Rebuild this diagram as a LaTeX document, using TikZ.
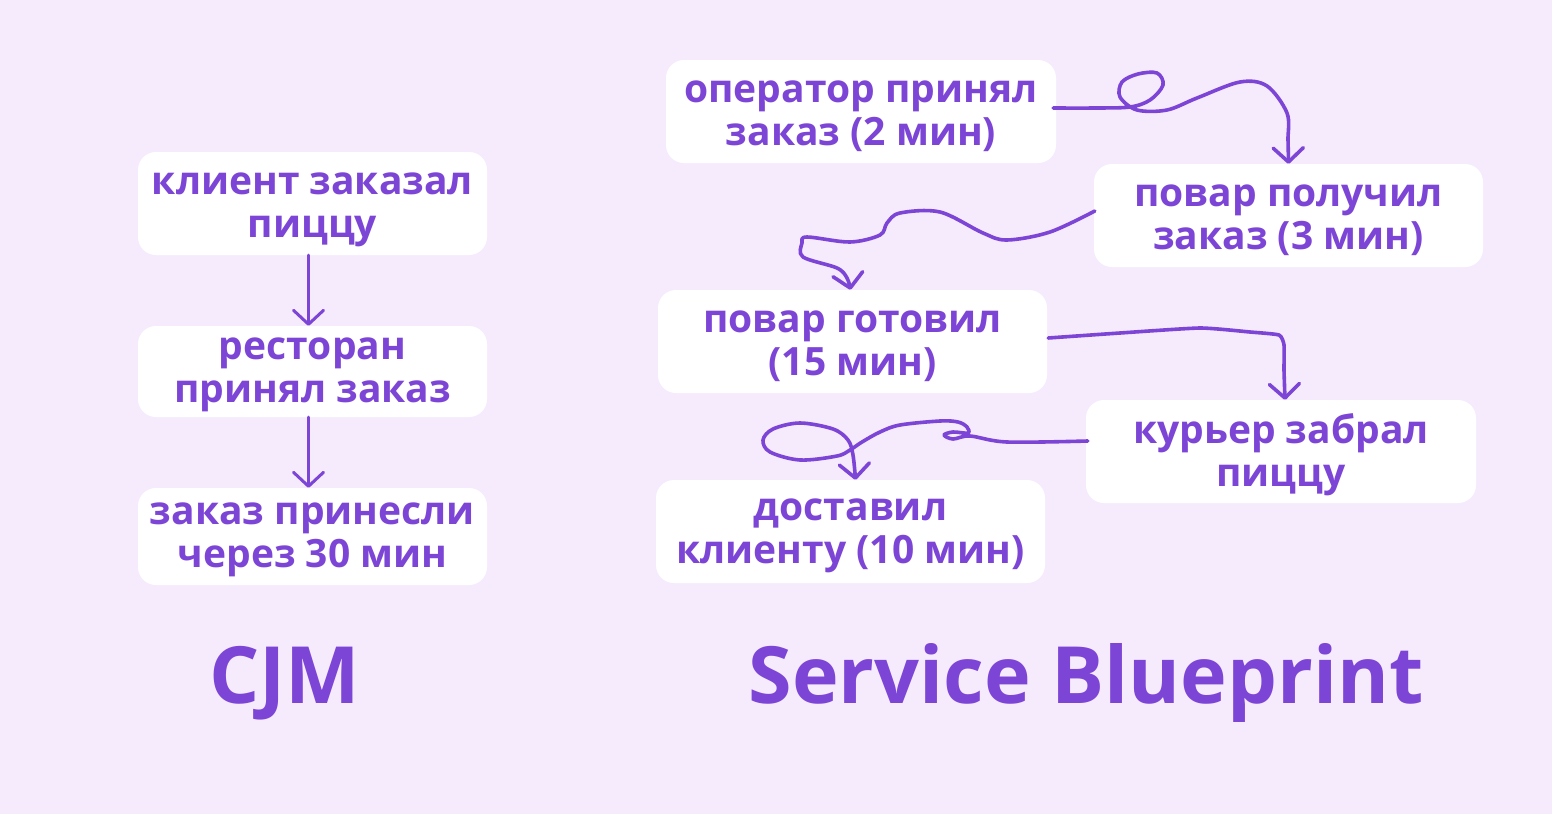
\documentclass[tikz,border=0pt]{standalone}
\usepackage{fontspec}
\setmainfont{Open Sans}
\usetikzlibrary{arrows.meta}
\definecolor{bg}{HTML}{F5EBFD}
\definecolor{pur}{HTML}{7D45D6}
\newcommand{\twolines}[2]{\begin{tabular}[t]{@{}c@{}}#1\\#2\end{tabular}}
\tikzset{
  box/.style={fill=white, rounded corners=18pt, inner sep=0pt,
    text=pur, font=\fontsize{39}{43}\selectfont\bfseries,
    text height=30pt, text depth=49pt},
  heading/.style={inner sep=0pt, anchor=base, text=pur, font=\fontsize{79}{90}\selectfont\bfseries},
  conn/.style={draw=pur, line width=3.6pt, line cap=round, line join=round,
    -{Straight Barb[round, length=14pt, width=30pt]}},
  straight/.style={draw=pur, line width=3pt, line cap=round,
    -{Straight Barb[round, length=14pt, width=30pt]}}
}
\begin{document}
\begin{tikzpicture}[x=1pt,y=-1pt]
\fill[bg] (0,0) rectangle (1552,814);
\useasboundingbox (0,0) rectangle (1552,814);

% CJM column
\node[box, minimum width=349pt, minimum height=103pt] (c1) at (312.5,203.5) {\twolines{клиент заказал}{пиццу}};
\node[box, minimum width=349pt, minimum height=91pt, text depth=54pt] (c2) at (312.5,371.5) {\twolines{ресторан}{принял заказ}};
\node[box, minimum width=349pt, minimum height=97pt, text depth=55pt] (c3) at (312.5,536.5) {\twolines{заказ принесли}{через 30 мин}};
\draw[straight] ([xshift=-4pt]c1.south) -- ([xshift=-4pt]c2.north);
\draw[straight] ([xshift=-4pt]c2.south) -- ([xshift=-4pt]c3.north);

% Service Blueprint
\node[box, minimum width=390pt, minimum height=103pt] (A) at (861,111.5) {\twolines{оператор принял}{заказ (2 мин)}};
\node[box, minimum width=389pt, minimum height=103pt] (B) at (1288.5,215.5) {\twolines{повар получил}{заказ (3 мин)}};
\node[box, minimum width=389pt, minimum height=103pt] (C) at (852.5,341.5) {\twolines{повар готовил}{(15 мин)}};
\node[box, minimum width=390pt, minimum height=103pt, text depth=47pt] (D) at (1281,451.5) {\twolines{курьер забрал}{пиццу}};
\node[box, minimum width=389pt, minimum height=103pt, text depth=53pt] (E) at (850.5,531.5) {\twolines{доставил}{клиенту (10 мин)}};

\node[heading] (hcjm) at (285,703) {CJM};
\node[heading] (hsb) at (1086,703) {Service Blueprint};

\draw[conn] plot[smooth, tension=0.55] coordinates {
  ([xshift=-3pt,yshift=3.5pt]A.east) (1095,108) (1130,107) (1150,100) (1163,85) (1157,73)
  (1138,74) (1122,82) (1120,97) (1137,110) (1167,110) (1197,98) (1240,82)
  (1267,86) (1287,113) (1288,140) (B.north)};

\draw[conn] plot[smooth, tension=0.55] coordinates {
  ([xshift=1pt,yshift=4.5pt]B.west) (1050,232) (1007,240) (983,233) (940,212) (900,213)
  (887,223) (880,235) (850,242) (807,237) (802,243) (803,257) (837,268)
  (847,278) ([xshift=-2pt]C.north)};

\draw[conn] plot[smooth, tension=0.3] coordinates {
  ([xshift=1pt,yshift=3.5pt]C.east) (1120,333) (1200,328) (1250,332) (1279,335)
  (1284,345) (1284,370) ([xshift=4pt]D.north)};

\draw[conn] plot[smooth, tension=0.55] coordinates {
  ([xshift=2pt,yshift=10.5pt]D.west) (1007,442) (970,436) (953,439) (944,435) (953,432)
  (968,433) (967,427) (958,422) (940,421) (900,425) (880,432) (862,442)
  (850,450) (837,456) (800,460) (770,452) (763,440) (773,429) (800,423)
  (833,429) (848,440) (853,455) ([xshift=5pt]E.north)};
\end{tikzpicture}
\end{document}
